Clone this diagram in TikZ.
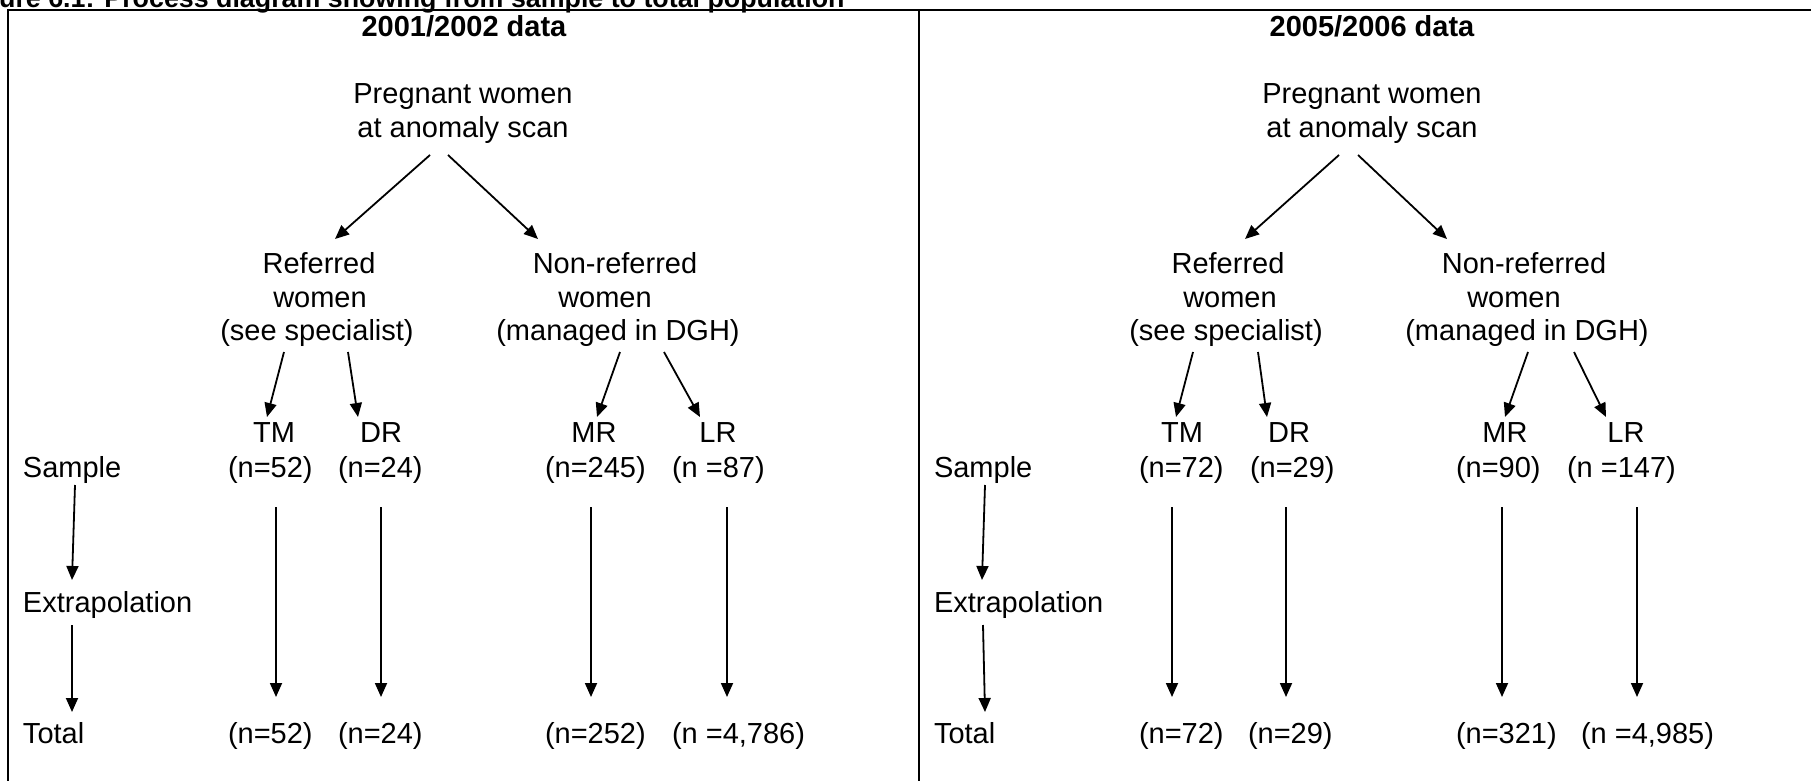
\documentclass[tikz,border=0pt]{standalone}
\usepackage{fontspec}
\setmainfont{Liberation Sans}
\usetikzlibrary{arrows.meta,calc}
\newcommand\bodyfont{\fontsize{29}{34}\selectfont}
\newcommand\titlefont{\fontsize{26.8}{32}\selectfont\bfseries}
\begin{document}
\begin{tikzpicture}[x=1pt,y=-1pt,
  txt/.style={inner sep=0pt,outer sep=0pt,font=\bodyfont},
  lt/.style={txt,anchor=base west},
  ct/.style={txt,anchor=base},
  hd/.style={txt,anchor=base,font=\bodyfont\bfseries},
  arr/.style={line width=1.8pt,-{Triangle[length=14pt,width=12pt]}},
  frameline/.style={line width=2pt}]
\useasboundingbox (0,0) rectangle (1811,781);
\clip (0,0) rectangle (1811,781);
% caption (clipped at the top)
\node[txt,anchor=base west,font=\titlefont] (title) at (-41,7.5) {Figure 6.1: Process diagram showing from sample to total population};
% frame
\draw[frameline] (8,781) -- (8,10) -- (1811,10);
\draw[frameline] (919,10) -- (919,781);

% ===== left panel =====
\node[hd] (hdL) at (464,37) {2001/2002 data};
\node[ct] (pregAL) at (463,104) {Pregnant women};
\node[ct] (pregBL) at (463,137) {at anomaly scan};
\node[ct] (refAL) at (319,273) {Referred};
\node[ct] (refBL) at (320,307) {women};
\node[ct] (refCL) at (317,340) {(see specialist)};
\node[ct] (nonAL) at (615,273) {Non-referred};
\node[ct] (nonBL) at (605,307) {women};
\node[ct] (nonCL) at (618,340) {(managed in DGH)};
\node[ct] (tmL) at (274,442) {TM};
\node[ct] (drL) at (381,442) {DR};
\node[ct] (mrL) at (594,442) {MR};
\node[ct] (lrL) at (718,442) {LR};
\node[lt] (sampL) at (23,477) {Sample};
\node[lt] (sTML) at (228,477) {(n=52)};
\node[lt] (sDRL) at (338,477) {(n=24)};
\node[lt] (sMRL) at (545,477) {(n=245)};
\node[lt] (sLRL) at (672,477) {(n =87)};
\node[lt] (extL) at (23,612) {Extrapolation};
\node[lt] (totL) at (23,743) {Total};
\node[lt] (tTML) at (228,743) {(n=52)};
\node[lt] (tDRL) at (338,743) {(n=24)};
\node[lt] (tMRL) at (545,743) {(n=252)};
\node[lt] (tLRL) at (672,743) {(n =4,786)};

\draw[arr] ($(pregBL.base)+(-33,18)$) -- ($(refAL.base)+(16,-34)$);
\draw[arr] ($(pregBL.base)+(-15,18)$) -- ($(nonAL.base)+(-77,-34)$);
\draw[arr] ($(refCL.base)+(-33,12)$) -- ($(tmL.base)+(-7,-25)$);
\draw[arr] ($(refCL.base)+(31,12)$) -- ($(drL.base)+(-23,-25)$);
\draw[arr] ($(nonCL.base)+(2,12)$) -- ($(mrL.base)+(3,-25)$);
\draw[arr] ($(nonCL.base)+(46,12)$) -- ($(lrL.base)+(-18,-25)$);
\draw[arr] ($(sTML.base west)+(48,30)$) -- ($(tTML.base west)+(48,-46)$);
\draw[arr] ($(sDRL.base west)+(43,30)$) -- ($(tDRL.base west)+(43,-46)$);
\draw[arr] ($(sMRL.base west)+(46,30)$) -- ($(tMRL.base west)+(46,-46)$);
\draw[arr] ($(sLRL.base west)+(55,30)$) -- ($(tLRL.base west)+(55,-46)$);
\draw[arr] ($(sampL.base west)+(52,8)$) -- ($(extL.base west)+(49,-32)$);
\draw[arr] ($(extL.base west)+(49,13)$) -- ($(totL.base west)+(49,-31)$);

% ===== right panel =====
\node[hd] (hdR) at (1372,37) {2005/2006 data};
\node[ct] (pregAR) at (1372,104) {Pregnant women};
\node[ct] (pregBR) at (1372,137) {at anomaly scan};
\node[ct] (refAR) at (1228,273) {Referred};
\node[ct] (refBR) at (1230,307) {women};
\node[ct] (refCR) at (1226,340) {(see specialist)};
\node[ct] (nonAR) at (1524,273) {Non-referred};
\node[ct] (nonBR) at (1514,307) {women};
\node[ct] (nonCR) at (1527,340) {(managed in DGH)};
\node[ct] (tmR) at (1182,442) {TM};
\node[ct] (drR) at (1289,442) {DR};
\node[ct] (mrR) at (1505,442) {MR};
\node[ct] (lrR) at (1626,442) {LR};
\node[lt] (sampR) at (934,477) {Sample};
\node[lt] (sTMR) at (1139,477) {(n=72)};
\node[lt] (sDRR) at (1250,477) {(n=29)};
\node[lt] (sMRR) at (1456,477) {(n=90)};
\node[lt] (sLRR) at (1567,477) {(n =147)};
\node[lt] (extR) at (934,612) {Extrapolation};
\node[lt] (totR) at (934,743) {Total};
\node[lt] (tTMR) at (1139,743) {(n=72)};
\node[lt] (tDRR) at (1248,743) {(n=29)};
\node[lt] (tMRR) at (1456,743) {(n=321)};
\node[lt] (tLRR) at (1581,743) {(n =4,985)};

\draw[arr] ($(pregBR.base)+(-33,18)$) -- ($(refAR.base)+(17,-34)$);
\draw[arr] ($(pregBR.base)+(-14,18)$) -- ($(nonAR.base)+(-77,-34)$);
\draw[arr] ($(refCR.base)+(-33,12)$) -- ($(tmR.base)+(-6,-25)$);
\draw[arr] ($(refCR.base)+(32,12)$) -- ($(drR.base)+(-22,-25)$);
\draw[arr] ($(nonCR.base)+(1,12)$) -- ($(mrR.base)+(0,-25)$);
\draw[arr] ($(nonCR.base)+(47,12)$) -- ($(lrR.base)+(-20,-25)$);
\draw[arr] ($(sTMR.base west)+(33,30)$) -- ($(tTMR.base west)+(33,-46)$);
\draw[arr] ($(sDRR.base west)+(36,30)$) -- ($(tDRR.base west)+(38,-46)$);
\draw[arr] ($(sMRR.base west)+(46,30)$) -- ($(tMRR.base west)+(46,-46)$);
\draw[arr] ($(sLRR.base west)+(70,30)$) -- ($(tLRR.base west)+(56,-46)$);
\draw[arr] ($(sampR.base west)+(51,8)$) -- ($(extR.base west)+(48,-32)$);
\draw[arr] ($(extR.base west)+(49,13)$) -- ($(totR.base west)+(51,-31)$);
\end{tikzpicture}
\end{document}
